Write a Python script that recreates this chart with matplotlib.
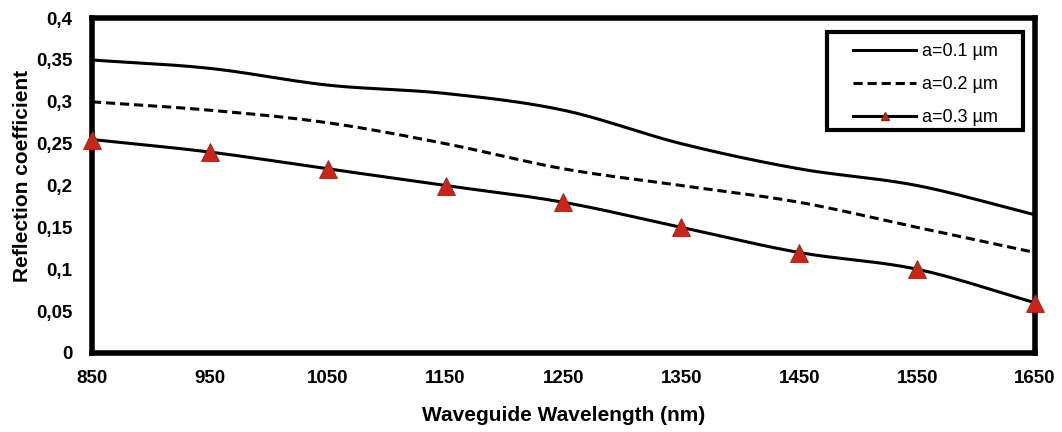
import numpy as np
import matplotlib
matplotlib.use("Agg")
from matplotlib import pyplot as plt
from matplotlib.patches import Rectangle

wavelength = [850, 950, 1050, 1150, 1250, 1350, 1450, 1550, 1650]
refl_a01 = [0.35, 0.34, 0.32, 0.31, 0.29, 0.25, 0.22, 0.20, 0.165]
refl_a02 = [0.30, 0.29, 0.275, 0.25, 0.22, 0.20, 0.18, 0.15, 0.12]
refl_a03 = [0.255, 0.24, 0.22, 0.20, 0.18, 0.15, 0.12, 0.10, 0.06]
labels = ["a=0.1 \u00b5m", "a=0.2 \u00b5m", "a=0.3 \u00b5m"]
yticks = [0, 0.05, 0.1, 0.15, 0.2, 0.25, 0.3, 0.35, 0.4]
ytick_labels = ["0", "0,05", "0,1", "0,15", "0,2", "0,25", "0,3", "0,35", "0,4"]


def smooth(x, y, n=30):
  """Catmull-Rom style smoothing like Excel's smoothed lines."""
  x = np.asarray(x, float)
  y = np.asarray(y, float)
  px = np.concatenate([[2 * x[0] - x[1]], x, [2 * x[-1] - x[-2]]])
  py = np.concatenate([[2 * y[0] - y[1]], y, [2 * y[-1] - y[-2]]])
  xs, ys = [], []
  t = np.linspace(0, 1, n)
  for i in range(1, len(px) - 2):
    for p, out in ((px, xs), (py, ys)):
      p0, p1, p2, p3 = p[i - 1], p[i], p[i + 1], p[i + 2]
      out.extend(0.5 * ((2 * p1) + (-p0 + p2) * t + (2 * p0 - 5 * p1 + 4 * p2 - p3) * t ** 2
                        + (-p0 + 3 * p1 - 3 * p2 + p3) * t ** 3))
  return xs, ys


plt.rcParams['font.family'] = ['Liberation Sans', 'DejaVu Sans']
fig = plt.figure(figsize=(10.62, 4.32), dpi=100)
ax = fig.add_axes([0.0866, 0.183, 0.888, 0.775])

sx, sy = smooth(wavelength, refl_a01)
ax.plot(sx, sy, color='black', lw=2.2, label=labels[0])
sx, sy = smooth(wavelength, refl_a02)
ax.plot(sx, sy, color='black', lw=2.2, ls=(0, (3, 1.6)), label=labels[1])
sx, sy = smooth(wavelength, refl_a03)
ax.plot(sx, sy, color='black', lw=2.2, zorder=3)
ax.plot(wavelength, refl_a03, ls='none', marker='^', ms=12.5, mfc='#cc2418',
        mec='#8a2a12', mew=0.6, clip_on=False, zorder=4)
ax.plot([], [], color='black', lw=2.2, marker='^', ms=6, mfc='#cc2418',
        mec='#8a2a12', label=labels[2])

ax.set_xlim(850, 1650)
ax.set_ylim(0, 0.4)
ax.set_xticks(wavelength)
ax.set_xticklabels([str(w) for w in wavelength], fontsize=13.5, fontweight='bold')
ax.set_yticks(yticks)
ax.set_yticklabels(ytick_labels, fontsize=13.5, fontweight='bold')
ax.tick_params(axis='x', length=0, pad=12)
ax.tick_params(axis='y', length=0, pad=14)
for s in ax.spines.values():
  s.set_linewidth(4)

ax.set_xlabel("Waveguide Wavelength (nm)", fontsize=15, fontweight='bold', labelpad=14)
ax.set_ylabel("Reflection coefficient", fontsize=15, fontweight='bold')
ax.yaxis.set_label_coords(-0.064, 0.53)

# legend box drawn separately so its padding matches the original
ax.add_patch(Rectangle((0.779, 0.666), 0.208, 0.292, transform=ax.transAxes,
                       fill=True, facecolor='white', edgecolor='black', lw=3, zorder=5))
leg = ax.legend(loc='upper left', bbox_to_anchor=(0.807, 0.926), fontsize=13,
                frameon=False, handlelength=3.5, borderpad=0, borderaxespad=0,
                labelspacing=0.9, handletextpad=0.3)
leg.set_zorder(6)

fig.savefig("out.png", dpi=100)
